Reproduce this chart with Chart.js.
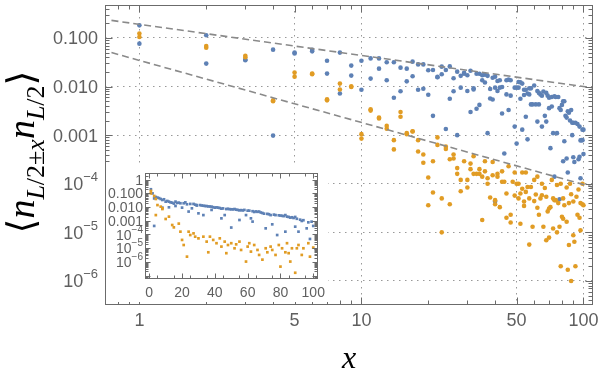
<!DOCTYPE html>
<html><head><meta charset="utf-8">
<script src="https://cdn.jsdelivr.net/npm/chart.js@4.4.1/dist/chart.umd.min.js"></script>
<style>
html,body{margin:0;padding:0;background:#fff;}
#wrap{position:relative;width:600px;height:385px;overflow:hidden;}
#main{position:absolute;left:0;top:0;}
#insetBox{position:absolute;left:106px;top:166px;width:222px;height:136px;background:#fff;}
#inset{position:absolute;left:0;top:0;}
</style></head><body>
<div id="wrap">
<canvas id="main" width="600" height="385"></canvas>
<div id="insetBox"><canvas id="inset" width="222" height="136"></canvas></div>
</div>
<script>
// ---------- data (main log-log plot) ----------
const mainBlue = [
[1,0.182],[1,0.0764],[2,0.1135],[2,0.0297],[3,0.0347],[3,0.036],[4,0.0575],[4,0.00098],[5,0.050],[5,0.048],[6,0.057],[6,0.053],[7,0.034],[7,0.0185],[8,0.050],[8,0.0072],[9,0.027],[9,0.0168],[10,0.034],[10,0.0086],[11,0.038],[11,0.0146],[12,0.038],[12,0.0234],[13,0.0316],[13,0.0135],[14,0.0316],[14,0.0059],[15,0.0245],[15,0.008],[16,0.0234],[16,0.0128],[17,0.0326],[17,0.0163],[18,0.0286],[18,0.0086],[19,0.0286],[19,0.009],[20,0.0216],[20,0.0068],[21,0.022],[21,0.0025],[22,0.0158],[22,0.0155],[23,0.0179],[23,0.0257],[24,0.022],[24,0.00134],[25,0.026],[25,0.0056],[26,0.0148],[26,0.008],[27,0.0203],[27,0.001],[28,0.0166],[28,0.0095],[29,0.0193],[29,0.0183],[30,0.0171],[30,0.0081],[31,0.0211],[31,0.003],[32,0.0092],[32,0.0087],[33,0.0183],[33,0.0035],[34,0.0183],[34,0.0042],[35,0.0171],[35,0.0135],[36,0.0121],[36,0.0175],[37,0.0166],[37,0.0011],[38,0.0089],[38,0.0057],[39,0.0054],[39,0.0152],[40,0.016],[40,0.0095],[40,0.000043],[41,0.0081],[41,0.013],[42,0.0135],[42,0.0095],[43,0.0028],[43,0.0098],[44,0.00042],[45,0.0069],[45,0.0135],[46,0.0033],[46,0.0139],[47,0.0065],[47,0.0135],[49,0.0015],[49,0.0095],[50,0.0095],[50,0.00067],[51,0.0095],[51,0.0124],[52,0.0056],[52,0.0122],[53,0.0013],[53,0.0115],[54,0.0086],[54,0.0067],[55,0.0024],[55,0.0086],[56,0.00082],[56,0.0072],[57,0.0069],[57,0.0092],[58,0.0043],[58,0.0092],[59,0.0043],[60,0.0105],[61,0.0043],[62,0.0019],[62,0.0081],[63,0.0043],[63,0.0074],[64,0.0069],[65,0.0065],[65,0.0015],[66,0.0079],[67,0.0025],[68,0.0074],[68,0.0019],[69,0.0065],[70,0.0036],[70,0.0059],[71,0.00054],[72,0.0061],[72,0.0039],[73,0.0011],[74,0.0063],[74,0.00014],[75,0.0061],[76,0.0011],[77,0.0061],[78,0.0036],[78,0.000048],[79,0.0033],[80,0.0042],[81,0.005],[81,0.00029],[82,0.00075],[82,0.005],[83,0.0025],[84,0.0023],[84,0.00033],[85,0.0031],[85,0.00017],[86,0.0029],[87,0.002],[88,0.0033],[89,0.001],[89,0.0018],[90,0.0018],[90,0.00035],[91,0.00028],[92,0.0018],[94,0.0017],[95,0.00032],[96,0.0015],[96,0.00036],[97,0.00013],[97,0.00078],[98,0.00079],[99,0.0013],[99,0.00079],[100,0.0013],[100,0.00041]
];
const mainOrange = [
[1,0.123],[1,0.105],[2,0.068],[2,0.063],[3,0.043],[3,0.040],[4,0.005],[4,0.0052],[5,0.0194],[5,0.016],[6,0.0185],[6,0.018],[7,0.0055],[7,0.0052],[8,0.0115],[8,0.0087],[9,0.0101],[9,0.0098],[10,0.00105],[10,0.00085],[11,0.0034],[11,0.0032],[12,0.0023],[12,0.0022],[13,0.00155],[13,0.00136],[14,0.00079],[14,0.00051],[15,0.003],[15,0.0024],[16,0.0011],[16,0.00105],[17,0.0012],[17,0.00119],[18,0.00079],[18,0.00046],[19,0.0004],[19,0.00027],[20,0.000135],[20,0.000036],[21,0.00029],[21,0.000066],[22,0.0009],[22,0.00063],[23,0.00005],[23,0.00001],[24,0.00058],[24,0.00052],[25,0.00032],[25,0.000038],[26,0.0004],[26,0.00033],[27,0.00021],[27,0.00016],[28,0.00012],[28,0.00007],[29,0.00029],[30,0.00012],[30,0.000084],[31,0.00026],[31,0.0002],[32,0.00037],[32,0.00016],[33,0.00016],[34,0.00016],[34,0.0002],[35,0.00014],[35,0.000018],[36,0.00029],[36,0.00018],[37,0.00013],[37,0.0001],[38,0.000052],[39,0.00028],[39,0.00015],[40,0.000046],[40,0.000038],[41,0.00016],[41,0.00014],[42,0.000033],[43,0.00018],[43,0.00011],[44,0.00011],[45,0.000063],[45,0.00002],[46,0.00023],[47,0.000023],[47,0.000016],[48,0.00011],[49,0.00017],[49,0.000057],[50,0.0001],[51,0.00005],[51,0.0001],[52,0.000015],[52,0.000063],[53,0.00017],[53,0.000079],[54,0.000043],[54,0.000035],[55,0.000068],[55,0.00017],[56,0.000086],[57,0.00005],[57,0.0000056],[58,0.000086],[59,0.000013],[60,0.00012],[60,0.000044],[61,0.00006],[62,0.000032],[62,0.00014],[63,0.000023],[64,0.00005],[65,0.0001],[65,0.000058],[66,0.000013],[67,0.000082],[68,0.000054],[68,0.0000069],[69,0.000027],[70,0.000031],[70,0.0000078],[71,0.000033],[72,0.00012],[73,0.00005],[73,0.000012],[74,0.000046],[75,0.000046],[76,0.000094],[76,0.00001],[77,0.00004],[78,0.000013],[79,0.000002],[79,0.0001],[80,0.000021],[81,0.00005],[81,0.000019],[82,0.000036],[84,0.000084],[84,0.0000165],[85,0.0000017],[86,0.00004],[87,0.0001],[86,0.0000055],[88,0.000061],[88,0.000001],[90,0.0000087],[90,0.000043],[91,0.0000064],[92,0.000002],[93,0.000054],[94,0.000023],[95,0.000076],[96,0.00002],[97,0.00004],[97,0.000011],[99,0.0001],[99,0.000038],[100,0.000036]
];
// dashed guide lines (end points at the frame edges)
const guideX = [0.7485, 110.4];
const upperGuideY = [0.23, 0.0094];
const lowerGuideY = [0.05, 0.000085];
// tick values / labels (main)
const mainXTicks = [1, 5, 10, 50, 100];
const mainXLabels = ['1', '5', '10', '50', '100'];
const mainXMinor = [0.8, 0.9, 2, 3, 4, 6, 7, 8, 9, 20, 30, 40, 60, 70, 80, 90];
const mainYTicks = [0.1, 0.01, 0.001, 1e-4, 1e-5, 1e-6];
const mainYLabels = ['0.100', '0.010', '0.001', '10^-4', '10^-5', '10^-6'];

// ---------- data (inset, linear x / log y) ----------
const insetBlue = [
[1,0.2],[2,0.1],[3,0.043],[3,0.00042],[4,0.055],[5,0.049],[6,0.045],[7,0.039],[8,0.033],[8,0.0091],[9,0.037],[10,0.025],[11,0.028],[12,0.025],[12,0.0096],[13,0.022],[14,0.021],[15,0.018],[16,0.025],[16,0.012],[17,0.02],[18,0.021],[19,0.019],[20,0.0091],[21,0.019],[22,0.022],[23,0.016],[24,0.0047],[25,0.017],[26,0.0081],[27,0.017],[28,0.015],[29,0.014],[29,0.013],[30,0.0035],[31,0.014],[32,0.013],[33,0.0126],[33,0.0026],[34,0.012],[35,0.0118],[36,0.0112],[37,0.011],[38,0.0107],[38,0.0062],[39,0.0098],[40,0.0091],[41,0.0095],[42,0.0091],[43,0.0085],[44,0.0077],[44,0.0015],[45,0.008],[46,0.0026],[47,0.0072],[48,0.0075],[49,0.007],[50,0.0069],[50,0.00032],[51,0.0068],[52,0.0072],[53,0.0065],[54,0.0062],[55,0.0058],[55,0.00114],[56,0.006],[57,0.0057],[58,0.0062],[59,0.0026],[60,0.0055],[61,0.0055],[62,0.0015],[63,0.00087],[63,0.005],[64,0.0044],[65,0.0048],[66,0.0045],[67,0.0047],[68,0.004],[69,0.0037],[70,0.0033],[71,0.00028],[72,0.0032],[73,0.003],[74,0.0026],[75,0.00055],[76,0.0028],[77,0.0026],[78,0.000091],[79,0.0025],[80,0.0024],[81,0.0023],[82,0.0022],[83,0.0026],[83,0.00016],[84,0.002],[85,0.0019],[86,0.0017],[87,0.0018],[88,0.0016],[89,0.0019],[89,0.00037],[90,0.0014],[91,0.00016],[92,0.0012],[93,0.00097],[94,0.0011],[96,0.00028],[97,0.00077],[98,0.000047],[99,0.00086],[100,0.00042]
];
const insetOrange = [
[1,0.15],[1,0.1],[3,0.065],[4,0.0026],[4,0.039],[5,0.014],[7,0.0107],[8,0.0072],[8,0.0081],[10,0.00135],[12,0.002],[14,0.00049],[15,0.00033],[18,0.00062],[19,0.00016],[20,0.00004],[21,0.000017],[23,0.0000024],[24,0.00016],[25,0.000091],[27,0.00012],[28,0.000069],[30,0.000052],[33,0.000069],[35,0.00003],[36,0.000005],[37,0.000069],[39,0.00004],[41,0.000023],[43,0.000052],[44,0.000013],[46,0.00003],[47,0.0000043],[48,0.000017],[50,0.000023],[52,0.0000098],[53,0.000019],[55,0.00003],[56,0.0000074],[59,0.00000105],[60,0.000013],[61,0.000023],[62,0.0000056],[64,0.000017],[66,0.0000074],[67,0.0000032],[69,0.00000145],[71,0.0000098],[72,0.000005],[74,0.000013],[75,0.0000074],[77,0.0000032],[79,0.000017],[80,0.00000045],[81,0.0000098],[83,0.000005],[84,0.000023],[85,0.0000043],[86,0.00000105],[87,0.0000098],[89,0.00000016],[90,0.0000098],[91,0.000017],[93,0.0000032],[94,0.0000098],[97,0.000023],[98,0.0000024],[100,0.000011]
];
const insetXTicks = [0, 20, 40, 60, 80, 100];
const insetXLabels = ['0', '20', '40', '60', '80', '100'];
const insetYTicks = [1, 0.1, 0.01, 0.001, 1e-4, 1e-5, 1e-6];
const insetYLabels = ['1', '0.100', '0.010', '0.001', '10^-4', '10^-5', '10^-6'];

// ---------- styling ----------
const BLUE = '#5E81B5', ORANGE = '#E19C24';
const FRAME = '#6b6b6b', LABEL = '#5f5f5f';
const SANS = '"Liberation Sans", Arial, sans-serif';
const SERIF = '"Liberation Serif", "DejaVu Serif", serif';
const pts = a => a.map(([x, y]) => ({x, y}));

function drawLabel(ctx, txt, right, cy, F, supF, rise) {
  ctx.textAlign = 'left'; ctx.textBaseline = 'alphabetic';
  const base = cy + F * 0.36;
  if (txt.startsWith('10^')) {
    const sup = '\u2212' + txt.slice(4);
    ctx.font = F + 'px ' + SANS; const wb = ctx.measureText('10').width;
    ctx.font = supF + 'px ' + SANS; const ws = ctx.measureText(sup).width;
    const left = right - wb - ws;
    ctx.font = F + 'px ' + SANS; ctx.fillText('10', left, base);
    ctx.font = supF + 'px ' + SANS; ctx.fillText(sup, left + wb, base - rise);
  } else {
    ctx.font = F + 'px ' + SANS;
    const w = ctx.measureText(txt).width;
    ctx.fillText(txt, right - w, base);
  }
}
function logMinor(min, max) {
  const out = [];
  for (let e = Math.floor(Math.log10(min)); e <= Math.ceil(Math.log10(max)); e++)
    for (let k = 2; k <= 9; k++) { const v = k * Math.pow(10, e); if (v > min && v < max) out.push(v); }
  return out;
}
function line(ctx, x1, y1, x2, y2) { ctx.beginPath(); ctx.moveTo(x1, y1); ctx.lineTo(x2, y2); ctx.stroke(); }

// ---------- main chart ----------
const mainDeco = {
  id: 'mainDeco',
  afterDraw(chart) {
    const {ctx, chartArea: a, scales: {x, y}} = chart;
    ctx.save();
    ctx.strokeStyle = FRAME; ctx.lineWidth = 1;
    const L = Math.round(a.left) + 0.5, R = Math.round(a.right) - 0.5, T = Math.round(a.top) + 0.5, B = Math.round(a.bottom) - 0.5;
    ctx.strokeRect(L, T, R - L, B - T);
    const xt = (v, len) => { const p = Math.round(x.getPixelForValue(v)) + 0.5; if (p < L || p > R) return; line(ctx, p, B, p, B - len); line(ctx, p, T, p, T + len); };
    const yt = (v, len) => { const p = Math.round(y.getPixelForValue(v)) + 0.5; if (p < T || p > B) return; line(ctx, L, p, L + len, p); line(ctx, R, p, R - len, p); };
    mainXTicks.forEach(v => xt(v, 7)); mainXMinor.forEach(v => xt(v, 4));
    mainYTicks.forEach(v => yt(v, 7)); logMinor(y.min, y.max).forEach(v => yt(v, 4));
    // tick labels
    ctx.fillStyle = LABEL;
    ctx.font = '18px ' + SANS; ctx.textAlign = 'center'; ctx.textBaseline = 'alphabetic';
    mainXTicks.forEach((v, i) => ctx.fillText(mainXLabels[i], x.getPixelForValue(v), 326));
    mainYTicks.forEach((v, i) => drawLabel(ctx, mainYLabels[i], 98, y.getPixelForValue(v), 18, 13, 9));
    // x axis title
    ctx.fillStyle = '#000';
    ctx.font = 'italic 32px ' + SERIF; ctx.textAlign = 'center';
    ctx.fillText('x', 349, 368);
    // y axis title  <n_{L/2±x} n_{L/2}>
    const F = 38, S = 26;
    const parts = [
      ['\u27E8', F, false, 0], ['n', F, true, 0],
      ['L', S, true, 1], ['/2\u00B1', S, false, 1], ['x', S, true, 1],
      ['n', F, true, 0], ['L', S, true, 1], ['/2', S, false, 1], ['\u27E9', F, false, 0]
    ];
    const fontOf = p => (p[2] ? 'italic ' : '') + p[1] + 'px ' + SERIF;
    let total = 0; parts.forEach(p => { ctx.font = fontOf(p); total += ctx.measureText(p[0]).width; });
    ctx.translate(34, 152); ctx.rotate(-Math.PI / 2);
    ctx.textAlign = 'left';
    let cx = -total / 2;
    parts.forEach(p => { ctx.font = fontOf(p); ctx.fillText(p[0], cx, p[3] ? 10 : 0); cx += ctx.measureText(p[0]).width; });
    ctx.restore();
  }
};

new Chart(document.getElementById('main'), {
  type: 'scatter',
  data: {
    datasets: [
      {type: 'line', data: guideX.map((x, i) => ({x, y: upperGuideY[i]})), borderColor: '#8a8a8a', borderWidth: 1.6, borderDash: [7, 4], pointRadius: 0, fill: false},
      {type: 'line', data: guideX.map((x, i) => ({x, y: lowerGuideY[i]})), borderColor: '#8a8a8a', borderWidth: 1.6, borderDash: [7, 4], pointRadius: 0, fill: false},
      {data: pts(mainOrange), backgroundColor: ORANGE, borderWidth: 0, pointRadius: 2.3},
      {data: pts(mainBlue), backgroundColor: BLUE, borderWidth: 0, pointRadius: 2.3}
    ]
  },
  options: {
    responsive: false, animation: false, devicePixelRatio: 1,
    layout: {padding: {left: 0, top: 5, right: 7, bottom: 0}},
    plugins: {legend: {display: false}, tooltip: {enabled: false}},
    scales: {
      x: {type: 'logarithmic', min: 0.7485, max: 110.4,
        afterBuildTicks: s => { s.ticks = mainXTicks.map(v => ({value: v})); },
        afterFit: s => { s.height = 80; },
        ticks: {display: false}, border: {display: false, dash: [1.5, 4.5]},
        grid: {color: '#999999', lineWidth: 1, drawTicks: false}},
      y: {type: 'logarithmic', min: 3.2e-7, max: 0.477,
        afterBuildTicks: s => { s.ticks = mainYTicks.map(v => ({value: v})); },
        afterFit: s => { s.width = 105; },
        ticks: {display: false}, border: {display: false, dash: [1.5, 4.5]},
        grid: {color: '#999999', lineWidth: 1, drawTicks: false}}
    }
  },
  plugins: [mainDeco]
});

// ---------- inset chart ----------
const insetDeco = {
  id: 'insetDeco',
  afterDraw(chart) {
    const {ctx, chartArea: a, scales: {x, y}} = chart;
    ctx.save();
    ctx.strokeStyle = FRAME; ctx.lineWidth = 1;
    const L = Math.round(a.left) + 0.5, R = Math.round(a.right) - 0.5, T = Math.round(a.top) + 0.5, B = Math.round(a.bottom) - 0.5;
    ctx.strokeRect(L, T, R - L, B - T);
    const xt = (v, len) => { const p = Math.round(x.getPixelForValue(v)) + 0.5; if (p < L || p > R) return; line(ctx, p, B, p, B - len); line(ctx, p, T, p, T + len); };
    const yt = (v, len) => { const p = Math.round(y.getPixelForValue(v)) + 0.5; if (p < T || p > B) return; line(ctx, L, p, L + len, p); line(ctx, R, p, R - len, p); };
    insetXTicks.forEach(v => xt(v, 5));
    for (let v = 5; v < 100; v += 10) xt(v, 3);
    [1e-7].concat(insetYTicks).forEach(v => yt(v, 5)); logMinor(y.min, y.max).forEach(v => yt(v, 3));
    ctx.fillStyle = LABEL;
    ctx.font = '14px ' + SANS; ctx.textAlign = 'center'; ctx.textBaseline = 'alphabetic';
    insetXTicks.forEach((v, i) => ctx.fillText(insetXLabels[i], x.getPixelForValue(v), 131));
    insetYTicks.forEach((v, i) => drawLabel(ctx, insetYLabels[i], 37, y.getPixelForValue(v), 14, 10, 7));
    ctx.restore();
  }
};
new Chart(document.getElementById('inset'), {
  type: 'scatter',
  data: {
    datasets: [
      {data: pts(insetOrange), backgroundColor: ORANGE, borderWidth: 0, pointStyle: 'rect', pointRadius: 1.9},
      {data: pts(insetBlue), backgroundColor: BLUE, borderWidth: 0, pointStyle: 'rect', pointRadius: 1.9}
    ]
  },
  options: {
    responsive: false, animation: false, devicePixelRatio: 1,
    layout: {padding: {left: 0, top: 7, right: 10, bottom: 0}},
    plugins: {legend: {display: false}, tooltip: {enabled: false}},
    scales: {
      x: {type: 'linear', min: -2.6, max: 102.9,
        afterFit: s => { s.height = 23; },
        ticks: {display: false}, border: {display: false}, grid: {display: false}},
      y: {type: 'logarithmic', min: 5.6e-8, max: 3.08,
        afterFit: s => { s.width = 39; },
        ticks: {display: false}, border: {display: false}, grid: {display: false}}
    }
  },
  plugins: [insetDeco]
});
</script>
</body></html>
